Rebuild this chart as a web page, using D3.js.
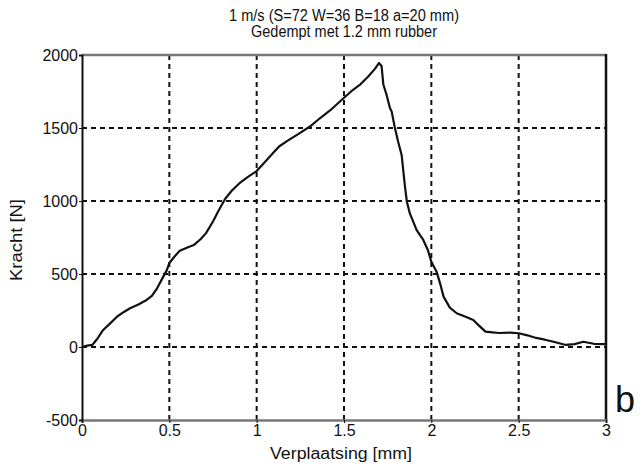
<!DOCTYPE html>
<html>
<head>
<meta charset="utf-8">
<script src="https://cdn.jsdelivr.net/npm/d3@7"></script>
<style>
  html, body { margin: 0; padding: 0; background: #fff; }
  svg { display: block; font-family: "Liberation Sans", Arial, sans-serif; }
</style>
</head>
<body>
<svg id="chart" width="640" height="470"></svg>
<script>
// Impact measurement: force against displacement
const displacement = [
  0, 0.03, 0.06, 0.09, 0.12, 0.16, 0.2, 0.24, 0.275, 0.32, 0.37, 0.4, 0.43, 0.46, 0.485,
  0.5, 0.53, 0.56, 0.6, 0.64, 0.68, 0.71, 0.75, 0.78, 0.82, 0.857, 0.9, 0.95, 1.0, 1.05,
  1.095, 1.13, 1.18, 1.24, 1.305, 1.36, 1.42, 1.494, 1.55, 1.59, 1.64, 1.677, 1.70, 1.715,
  1.725, 1.744, 1.763, 1.773, 1.79, 1.81, 1.83, 1.84, 1.85, 1.86, 1.877, 1.916, 1.954, 1.98,
  2.0, 2.03, 2.05, 2.07, 2.106, 2.145, 2.2, 2.24, 2.27, 2.31, 2.35, 2.39, 2.45, 2.5, 2.55,
  2.6, 2.65, 2.7, 2.77, 2.82, 2.87, 2.93, 3.0
];
const force = [
  0, 10, 15, 60, 115, 160, 207, 240, 265, 290, 322, 350, 402, 470, 525,
  575, 620, 660, 680, 698, 740, 780, 860, 930, 1015, 1070, 1120, 1165, 1205, 1270,
  1330, 1375, 1415, 1460, 1510, 1565, 1620, 1700, 1760, 1795, 1855, 1905, 1945, 1925,
  1800, 1726, 1637, 1612, 1509, 1406, 1315, 1201, 1089, 995, 915, 801, 733, 664,
  584, 516, 436, 345, 270, 231, 205, 185, 150, 105, 100, 96, 98, 94, 80,
  62, 50, 36, 14, 20, 36, 22, 20
];
const xTicks = [0, 0.5, 1, 1.5, 2, 2.5, 3];
const xTickLabels = ["0", "0.5", "1", "1.5", "2", "2.5", "3"];
const yTicks = [-500, 0, 500, 1000, 1500, 2000];
const yTickLabels = ["-500", "0", "500", "1000", "1500", "2000"];
const titleLines = ["1 m/s (S=72 W=36 B=18 a=20 mm)", "Gedempt met 1.2 mm rubber"];
const xLabel = "Verplaatsing [mm]";
const yLabel = "Kracht [N]";
const panelLetter = "b";

const svg = d3.select("#chart");
const plotLeft = 82, plotRight = 606, plotTop = 55, plotBottom = 420;

const x = d3.scaleLinear().domain([0, 3]).range([plotLeft, plotRight]);
const y = d3.scaleLinear().domain([-500, 2000]).range([plotBottom, plotTop]);

// dashed grid
const grid = svg.append("g").attr("stroke", "#111").attr("stroke-width", 2)
  .attr("stroke-dasharray", "5,4");
grid.selectAll("line.v").data(xTicks.filter(d => d > 0 && d < 3)).join("line")
  .attr("class", "v")
  .attr("x1", d => x(d)).attr("x2", d => x(d)).attr("y1", plotTop).attr("y2", plotBottom);
grid.selectAll("line.h").data(yTicks.filter(d => d > -500 && d < 2000)).join("line")
  .attr("class", "h")
  .attr("x1", plotLeft).attr("x2", plotRight).attr("y1", d => y(d)).attr("y2", d => y(d));

// curve
const pts = displacement.map((d, i) => [d, force[i]]);
svg.append("path").datum(pts)
  .attr("fill", "none").attr("stroke", "#111").attr("stroke-width", 2.2)
  .attr("stroke-linejoin", "round")
  .attr("d", d3.line().x(d => x(d[0])).y(d => y(d[1])));

// frame
svg.append("line").attr("x1", plotLeft).attr("x2", plotRight).attr("y1", plotTop).attr("y2", plotTop)
  .attr("stroke", "#777").attr("stroke-width", 2.5);
svg.append("line").attr("x1", plotRight).attr("x2", plotRight).attr("y1", plotTop - 1).attr("y2", plotBottom + 1)
  .attr("stroke", "#111").attr("stroke-width", 2.5);

// axes
const xAxis = d3.axisBottom(x).tickValues(xTicks).tickSize(3)
  .tickFormat((d, i) => xTickLabels[i]).tickPadding(2);
const gx = svg.append("g").attr("transform", `translate(0,${plotBottom})`).call(xAxis);
const yAxis = d3.axisLeft(y).tickValues(yTicks).tickSize(3)
  .tickFormat((d, i) => yTickLabels[i]).tickPadding(1);
const gy = svg.append("g").attr("transform", `translate(${plotLeft},0)`).call(yAxis);
[gx, gy].forEach(g => {
  g.select(".domain").attr("stroke", "#111").attr("stroke-width", 2);
  g.selectAll(".tick line").attr("stroke", "#111").attr("stroke-width", 1);
  g.selectAll("text").attr("fill", "#111").style("font-size", "16px")
    .style("font-family", "'Liberation Sans Narrow', 'Liberation Sans', Arial, sans-serif");
});
gx.select(".domain").attr("stroke", "#777").attr("stroke-width", 2.5);

// titles
svg.selectAll("text.title").data(titleLines).join("text")
  .attr("class", "title").attr("x", 344).attr("y", (d, i) => 21 + i * 16)
  .attr("text-anchor", "middle").attr("fill", "#111").style("font-size", "16px")
  .attr("textLength", (d, i) => i === 0 ? 230 : 186).attr("lengthAdjust", "spacingAndGlyphs")
  .text(d => d);

svg.append("text").attr("x", 341).attr("y", 459).attr("text-anchor", "middle")
  .attr("fill", "#111").style("font-size", "16px")
  .attr("textLength", 142).attr("lengthAdjust", "spacingAndGlyphs").text(xLabel);

svg.append("text").attr("transform", "translate(22,240) rotate(-90)")
  .attr("text-anchor", "middle").attr("fill", "#111").style("font-size", "16px")
  .attr("textLength", 82).attr("lengthAdjust", "spacingAndGlyphs").text(yLabel);

svg.append("text").attr("x", 615).attr("y", 412).attr("fill", "#111")
  .style("font-size", "36px").text(panelLetter);
</script>
</body>
</html>
